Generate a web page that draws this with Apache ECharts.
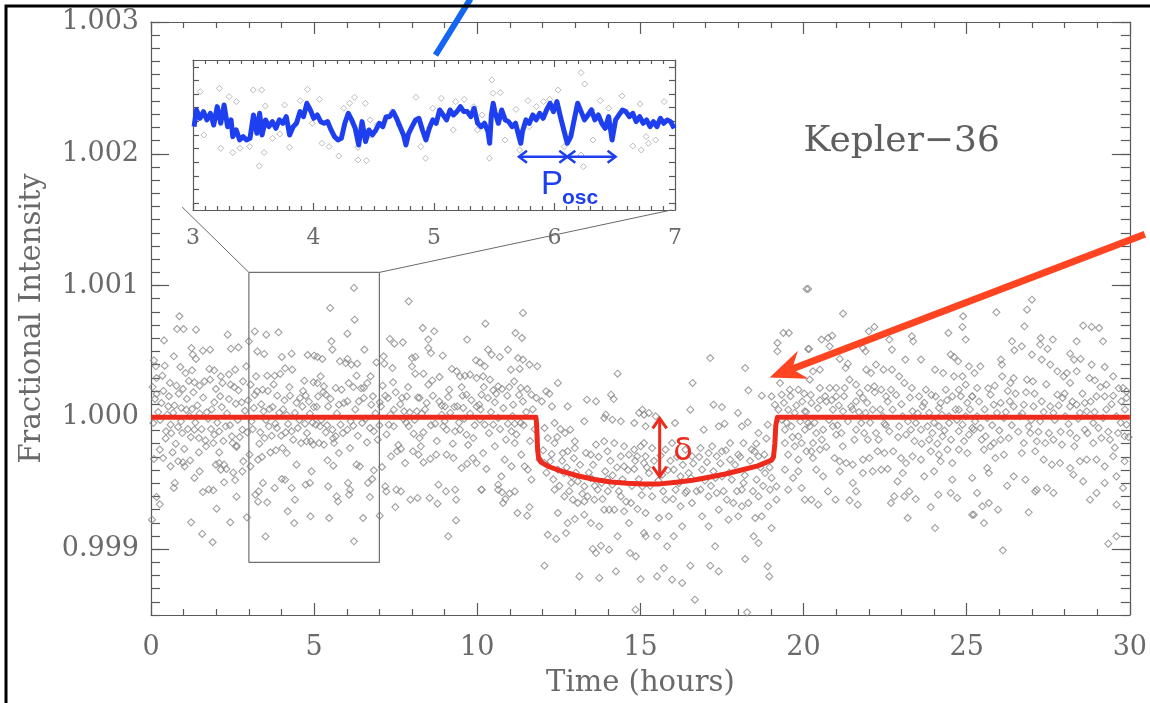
<!DOCTYPE html>
<html><head><meta charset="utf-8">
<script src="https://cdn.jsdelivr.net/npm/echarts@6/dist/echarts.min.js"></script>
<style>html,body{margin:0;padding:0;background:#fff}#c{width:1150px;height:703px}</style>
</head><body><div id="c"></div>
<script>
// ---- Observed light curve: [time (hours), deviation from 1 in ppm] ----
const obsSeg1 = [[0.87,767],[0.80,670],[1.00,670],[1.38,665],[0.40,584],[2.35,627],[3.18,652],[3.53,627],[3.91,645],[3.00,577],[1.24,526],[1.59,506],[1.81,513],[2.45,521],[2.68,531],[0.70,463],[1.28,476],[1.38,443],[3.26,500],[3.47,481],[4.01,458],[4.31,483],[4.80,473],[5.00,468],
[0.09,433],[0.15,387],[0.42,392],[0.90,382],[1.06,336],[1.26,357],[1.79,367],[1.94,357],[2.14,311],[2.39,326],[2.58,362],[2.92,387],[3.22,311],[3.56,316],[3.79,316],[3.96,329],[4.11,372],[4.33,362],[4.70,278],[4.98,266],
[0.17,298],[0.35,316],[0.58,261],[0.78,240],[0.98,215],[1.16,276],[1.33,266],[1.49,240],[1.64,273],[1.81,286],[1.99,215],[2.19,261],[2.44,248],[2.68,205],[2.82,273],[3.05,248],[3.25,197],[3.42,210],[3.87,164],[4.09,129],[4.26,164],[4.57,147],[4.74,164],[4.99,78],
[0.17,177],[0.32,109],[0.53,83],[0.68,33],[0.93,71],[1.08,58],[1.26,63],[1.49,28],[1.71,38],[1.94,114],[2.17,78],[2.39,139],[2.60,104],[2.78,114],[2.98,129],[3.15,71],[3.45,46],[3.63,63],[3.73,78],[3.93,33],[4.16,18],[4.41,33],[4.64,83],[4.87,28],
[0.07,-43],[0.46,-106],[0.60,-56],[0.83,-73],[0.96,-119],[1.13,-89],[1.33,-94],[1.47,-157],[1.67,-175],[1.84,-89],[1.94,-132],[2.09,-106],[2.29,-68],[2.48,-144],[2.62,-215],[2.80,-94],[2.95,-114],[3.12,-89],[3.35,-114],[3.48,-157],[3.61,-68],[3.81,-48],[3.99,-139],[4.13,-114],[4.31,-106],[4.50,-81],[4.72,-48],[4.90,-182],
[0.27,-245],[0.37,-309],[0.66,-266],[0.83,-334],[0.98,-342],[1.20,-327],[1.47,-266],[1.69,-220],[1.91,-195],[2.09,-266],[2.24,-359],[2.50,-195],[2.62,-225],[2.83,-334],[3.02,-283],[3.28,-321],[3.40,-301],[3.66,-266],[3.83,-250],[4.03,-233],[4.16,-271],[4.46,-359],[4.60,-195],[4.77,-182],[4.97,-207],[0.09,-316],[0.60,-372],[1.03,-372],[1.99,-359],[2.31,-392],[3.05,-372],
[0.70,-536],[0.73,-498],[1.33,-460],[1.59,-567],[1.77,-547],[1.91,-554],[2.09,-347],[2.14,-397],[2.24,-493],[2.52,-420],[2.58,-476],[2.62,-602],[2.80,-410],[3.20,-587],[3.30,-562],[3.43,-498],[3.56,-645],[3.28,-640],[3.79,-536],[4.01,-468],[4.11,-473],[4.31,-536],[4.41,-625],[4.74,-511],[4.87,-498],[4.92,-410],[0.17,-604],[0.27,-660],[1.49,-410],
[1.23,-797],[1.57,-885],[1.89,-948],[2.01,-693],[2.43,-797],[2.94,-759],[3.51,-904],[4.19,-713],[4.39,-802],[4.89,-751],[0.03,-777],
[0.05,230],[0.12,140],[0.22,40],[0.28,-20],[0.38,200],[0.45,-160],[0.50,20],[0.55,160],[0.62,-120],[0.72,90],[0.76,-200],[0.85,180],[0.92,-30],[1.02,-240],[1.10,140],[1.18,10],[1.22,-150],[1.30,190],[1.36,-40],[1.42,90],[1.55,-90],[1.60,150],[1.75,-10],[1.86,60],[2.03,-40],[2.12,160],[2.22,-180],[2.33,30],[2.42,-60],[2.55,230],[2.66,-20],[2.72,-150],[2.88,50],[3.08,-30],[3.18,170],[3.32,-200],[3.38,100],[3.52,-20],[3.58,200],[3.70,-140],[3.76,250],[3.86,-80],[4.05,60],[4.20,-50],[4.24,230],[4.36,-170],[4.46,110],[4.55,-20],[4.66,200],[4.78,-120],[4.84,120],[4.95,-40]];
const obsSeg2 = [[6.22,982],[7.90,880],[5.49,830],[6.24,741],[6.02,635],[5.53,577],[5.56,514],[6.54,514],[7.32,595],[7.46,559],[7.72,569],[8.33,678],[8.68,653],[8.50,590],[8.50,526],[8.58,488],[9.69,590],[8.94,468],[9.96,433],
[5.10,458],[5.25,443],[5.79,425],[5.97,412],[6.02,443],[6.14,400],[6.32,407],[6.91,417],[7.13,463],[7.15,407],[7.40,374],[8.00,450],[8.10,458],[8.00,387],[8.10,331],[8.35,331],[8.84,306],[9.22,367],[9.37,349],[9.47,311],[9.62,316],[9.78,324],[9.98,298],[10.08,417],
[5.20,311],[5.10,260],[5.30,235],[5.66,223],[6.20,230],[6.30,316],[6.52,223],[6.63,260],[6.73,311],[7.42,266],[7.69,147],[7.84,159],[8.23,147],[8.50,248],[8.64,164],[8.91,89],[9.11,154],[9.55,164],[9.67,172],[10.06,96],
[5.12,159],[5.36,172],[5.43,83],[5.76,96],[5.91,109],[6.02,121],[6.37,121],[6.52,147],[6.75,96],[7.01,114],[7.05,83],[7.18,164],[7.26,147],[7.44,58],[7.76,46],[7.93,38],[8.15,46],[8.30,28],[8.45,109],[8.91,20],[9.01,83],[9.17,33],[9.39,83],[9.57,71],[9.78,28],[9.98,83],
[5.05,-56],[5.18,-68],[5.36,-114],[5.56,-94],[5.66,-144],[5.81,-56],[6.02,-94],[6.20,-63],[6.47,-43],[6.71,-81],[6.83,-106],[6.95,-170],[7.29,-56],[7.44,-68],[7.74,-13],[7.90,-68],[8.05,-124],[8.23,-157],[8.35,-114],[8.71,-48],[8.96,-68],[9.06,-94],[9.32,-106],[9.47,-94],[9.67,-132],[9.88,-157],
[5.15,-195],[5.30,-207],[5.61,-195],[5.76,-271],[6.10,-233],[5.41,-326],[5.59,-367],[6.30,-359],[6.40,-372],[7.08,-377],[7.36,-296],[7.54,-258],[7.66,-240],[7.79,-347],[8.03,-258],[8.20,-283],[8.35,-342],[8.56,-316],[8.74,-283],[9.06,-283],[9.27,-309],[9.52,-385],[9.69,-352],[9.86,-309],[9.98,-347],
[5.43,-524],[6.04,-498],[6.10,-549],[6.07,-587],[5.69,-600],[5.73,-638],[6.65,-498],[6.78,-468],[6.83,-402],[6.71,-605],[7.18,-524],[7.21,-562],[7.52,-549],[7.66,-562],[7.49,-681],[7.95,-625],[8.17,-612],[8.54,-612],[8.78,-655],[8.81,-511],[9.04,-562],[9.32,-549],[9.35,-625],[10.13,-549],
[5.46,-764],[6.50,-764],[7.01,-746],[6.22,-941],[9.35,-782],[9.11,-903],
[5.08,80],[5.22,-20],[5.28,190],[5.40,-60],[5.50,140],[5.58,-160],[5.70,30],[5.84,210],[5.88,-120],[6.06,260],[6.12,-30],[6.26,60],[6.34,-140],[6.44,220],[6.58,-10],[6.62,-190],[6.80,160],[6.88,30],[7.00,-60],[7.10,240],[7.22,-130],[7.34,20],[7.50,190],[7.58,-210],[7.64,100],[7.82,-40],[7.88,230],[8.08,-20],[8.18,150],[8.27,-220],[8.40,60],[8.58,-60],[8.62,280],[8.76,-180],[8.84,120],[9.00,-30],[9.14,210],[9.25,-200],[9.30,80],[9.44,-40],[9.52,230],[9.60,-10],[9.72,-210],[9.82,130],[9.92,-60]];
const obsSeg3 = [[11.40,792],[10.25,711],[11.17,640],[11.37,602],[10.33,514],[10.44,476],[10.69,458],[10.94,514],[11.25,450],[11.40,438],[11.60,400],[11.84,387],[11.03,362],[11.30,367],[10.23,387],[10.18,311],[10.39,286],[12.47,261],[14.30,331],[13.36,134],[13.64,121],[14.10,172],[14.18,139],
[10.64,235],[10.76,215],[10.49,205],[11.13,273],[11.33,223],[11.53,215],[11.66,172],[11.81,147],[11.98,121],[10.13,172],[10.33,147],[10.54,114],[10.92,164],[11.10,96],[11.40,121],[12.11,197],[12.21,180],[12.29,83],[12.77,83],[13.28,-30],[13.94,20],[14.14,-18],[14.40,-30],[13.89,-5],[14.96,33],[15.11,20],[14.81,-43],
[10.08,-18],[10.23,-56],[10.49,-56],[10.64,-5],[10.94,-48],[11.15,-48],[11.33,-43],[11.05,-106],[11.15,-195],[10.54,-220],[10.18,-271],[10.28,-392],[10.84,-321],[11.05,-372],[10.74,-448],[11.35,-283],[11.66,-473],[11.55,-397],[11.45,-372],[10.13,-549],[10.64,-511],[10.64,-549],[10.76,-569],[10.86,-620],[10.99,-579],[11.15,-562],[10.79,-650],[11.23,-726],[11.53,-746],[11.60,-681],
[12.06,-81],[12.37,-43],[12.55,-89],[12.69,-119],[12.85,-94],[12.99,-182],[12.16,-157],[12.37,-195],[12.62,-271],[12.77,-258],[12.99,-233],[11.91,-321],[12.06,-347],[12.24,-334],[12.47,-397],[12.67,-423],[12.90,-448],[13.08,-486],[13.28,-524],[13.48,-460],[13.69,-549],[13.81,-498],[13.99,-468],[14.14,-511],[13.64,-207],[13.89,-182],[14.20,-195],[14.50,-220],[14.81,-245],[15.01,-220],[13.48,-283],[13.99,-258],[14.40,-296],[14.65,-283],[14.90,-296],[14.50,-372],[14.81,-392],[15.11,-347],
[12.37,-549],[12.67,-600],[12.93,-625],[13.08,-650],[13.28,-638],[12.47,-726],[12.77,-802],[12.99,-772],[12.16,-891],[12.42,-923],[12.72,-878],[12.06,-1126],[13.13,-1207],[13.54,-999],[13.64,-1030],[13.79,-974],[14.04,-1004],[14.30,-903],[13.74,-1219],[14.25,-1169],[14.68,-1030],[14.86,-1055],[14.91,-696],[15.11,-878],[15.01,-1227],[14.20,-701],[14.50,-713],[14.71,-650],[13.48,-802],[13.74,-827],[13.28,-739],[14.65,-802],[13.89,-701],[14.04,-701],[12.88,-498],[13.38,-600],[13.59,-625],[14.40,-600],[14.85,-1460],
[10.10,60],[10.20,230],[10.36,-120],[10.42,40],[10.58,180],[10.70,-90],[10.80,70],[10.88,-170],[10.98,230],[11.08,10],[11.20,-130],[11.28,170],[11.42,-60],[11.50,40],[11.62,-180],[11.70,60],[11.76,-90],
[12.02,-250],[12.12,-420],[12.28,-280],[12.33,-470],[12.45,-150],[12.52,-520],[12.60,-330],[12.74,-380],[12.82,-560],[12.96,-310],[13.02,-420],[13.15,-360],[13.22,-580],[13.33,-270],[13.42,-420],[13.55,-360],[13.60,-520],[13.72,-300],[13.84,-620],[13.92,-410],[14.00,-560],[14.08,-330],[14.15,-440],[14.28,-380],[14.34,-560],[14.45,-470],[14.56,-640],[14.62,-400],[14.74,-520],[14.84,-330],[14.95,-470],[15.04,-590]];
const obsSeg4 = [[20.09,974],[19.38,640],[19.55,640],[19.20,564],[19.20,501],[20.14,519],[17.14,450],[18.21,374],[16.60,261],[18.31,205],[18.72,164],[19.02,159],[19.33,172],[19.58,210],[19.84,210],[20.02,180],[19.12,96],[19.23,58],[19.53,58],[19.73,33],[20.04,46],
[15.06,58],[15.26,33],[15.47,8],[15.16,-68],[16.06,-43],[16.53,58],[17.24,96],[17.50,78],[16.94,-94],[17.40,-68],[17.58,-48],[17.99,33],[18.11,-68],[18.29,-38],[18.62,-119],[18.90,-56],[17.75,-195],[18.16,-195],[18.50,-258],
[15.11,-195],[15.36,-233],[15.16,-296],[15.77,-245],[15.97,-195],[16.38,-245],[16.58,-296],[16.84,-233],[17.09,-271],[17.34,-296],[17.50,-258],[17.75,-321],[18.00,-283],[18.41,-245],[18.62,-296],[18.80,-283],
[15.26,-423],[15.67,-435],[16.02,-397],[16.23,-448],[16.48,-423],[16.89,-397],[17.24,-410],[17.50,-448],[17.80,-473],[18.16,-498],[18.56,-473],[18.82,-423],[19.02,-460],
[15.06,-524],[15.36,-600],[15.77,-625],[16.08,-549],[16.38,-574],[16.58,-650],[16.84,-549],[17.09,-600],[17.34,-574],[17.65,-625],[17.85,-650],[18.11,-549],[18.31,-650],[18.62,-600],[18.97,-549],[19.17,-524],
[15.16,-726],[15.57,-764],[15.87,-751],[16.23,-675],[16.28,-827],[16.89,-751],[17.09,-827],[17.40,-701],[17.70,-777],[18.00,-751],[18.11,-675],[18.52,-764],[18.72,-751],[18.92,-675],[19.02,-840],
[15.16,-903],[15.51,-903],[15.82,-979],[16.02,-903],[16.53,-1126],[17.14,-1126],[17.40,-1169],[17.29,-979],[18.21,-1075],[18.47,-903],[18.62,-954],[18.90,-1131],[18.95,-1207],[15.72,-1144],[15.97,-1232],[16.28,-1257],[15.51,-1207],[16.67,-1384],[18.27,-1480],
[19.33,-18],[19.43,-94],[19.63,-68],[19.84,-144],[20.04,-94],[20.14,-43],[19.43,-195],[19.73,-220],[19.94,-195],[19.53,-283],[19.84,-321],[20.09,-258],[19.43,-397],[19.68,-460],[19.84,-410],[19.53,-549],[19.94,-536],[19.17,-625],[20.04,-625],
[15.20,-380],[15.30,-520],[15.42,-330],[15.55,-480],[15.62,-290],[15.70,-560],[15.84,-400],[15.92,-330],[16.00,-620],[16.12,-300],[16.18,-500],[16.30,-360],[16.42,-560],[16.55,-460],[16.62,-350],[16.72,-560],[16.80,-300],[16.98,-480],[17.04,-340],[17.16,-520],[17.20,-220],[17.30,-460],[17.45,-350],[17.55,-560],[17.62,-250],[17.72,-420],[17.90,-360],[17.96,-560],[18.06,-300],[18.20,-440],[18.36,-330],[18.45,-560],[18.55,-200],[18.68,-380],[18.76,-520],[18.86,-160],[18.96,-380],
[19.28,260],[19.40,110],[19.48,-40],[19.60,160],[19.66,-150],[19.78,90],[19.90,-30],[19.96,120]];
const obsSeg5 = [[20.14,974],[21.21,787],[22.00,653],[22.17,686],[20.55,590],[20.75,602],[20.88,620],[20.17,519],[20.80,539],[21.82,526],[21.90,501],[22.63,590],[22.71,514],[23.32,615],[23.36,577],[24.89,767],[24.87,686],[24.97,590],[24.44,640],[23.60,438],[23.12,438],[24.51,476],[24.61,458],[24.74,425],[25.07,387],[21.11,443],[21.36,407],[21.29,374],[21.92,362],[22.07,336],[22.22,400],[22.45,362],[22.71,362],[22.93,311],[24.03,362],[24.28,336],[24.61,311],[24.87,311],[20.29,349],[20.50,362],[20.19,286],
[20.50,223],[20.80,223],[21.00,223],[21.26,223],[21.41,286],[21.61,248],[21.72,185],[21.82,147],[21.97,223],[22.17,235],[22.38,210],[22.53,159],[22.68,210],[23.09,261],[23.32,223],[23.54,159],[23.75,210],[24.05,159],[24.20,109],[24.36,210],[24.56,159],[24.76,210],[24.97,248],[25.17,159],[20.24,109],[20.50,129],[20.70,121],[21.00,159],
[20.90,58],[21.21,46],[21.46,83],[21.61,121],[21.90,33],[22.12,58],[22.43,8],[22.73,58],[23.04,8],[23.34,46],[23.65,83],[23.85,33],[24.15,71],[24.46,8],[24.76,58],[24.97,8],
[20.19,-68],[20.39,-119],[20.29,-195],[20.60,-94],[20.90,-68],[21.00,-132],[21.16,-119],[21.61,-94],[21.77,-43],[21.97,-170],[22.22,-119],[22.48,-48],[22.63,-106],[22.93,-68],[23.14,-132],[23.29,-94],[23.44,-43],[23.60,-94],[23.80,-68],[23.85,-170],[23.95,-119],[24.15,-68],[24.26,-144],[24.46,-43],[24.76,-106],[24.87,-56],[25.07,-132],[25.17,-81],
[20.24,-258],[20.50,-245],[20.29,-309],[20.70,-225],[20.95,-309],[21.11,-334],[21.31,-347],[21.51,-359],[21.82,-321],[22.02,-309],[22.27,-258],[22.48,-271],[22.75,-258],[22.99,-309],[23.14,-347],[23.34,-296],[23.60,-321],[23.90,-258],[24.15,-283],[24.20,-334],[24.41,-245],[24.76,-245],[25.02,-271],[24.56,-347],
[20.39,-397],[20.60,-448],[21.11,-410],[21.51,-498],[21.82,-423],[22.12,-410],[22.38,-397],[22.58,-392],[22.88,-486],[23.04,-423],[23.70,-448],[24.00,-410],[24.56,-473],[25.17,-460],
[20.75,-562],[20.98,-625],[21.41,-630],[21.61,-562],[21.66,-663],[22.68,-650],[22.78,-600],[23.09,-600],[23.24,-562],[23.44,-620],[24.13,-587],[24.51,-574],[24.71,-612],[20.24,-625],[20.45,-663],
[23.19,-764],[23.90,-681],[24.03,-840],[25.17,-739],
[20.08,40],[20.22,170],[20.34,-40],[20.44,70],[20.56,-170],[20.66,160],[20.78,-20],[20.86,130],[21.04,-60],[21.08,90],[21.20,-220],[21.24,160],[21.36,-30],[21.50,60],[21.56,-170],[21.70,40],[21.86,-120],[21.95,110],[22.04,-40],[22.18,190],[22.30,-170],[22.35,60],[22.52,-60],[22.58,120],[22.84,170],[22.90,-150],[23.00,100],[23.20,-30],[23.26,150],[23.40,-180],[23.50,30],[23.62,-200],[23.70,110],[23.92,170],[24.00,-40],[24.10,-200],[24.24,20],[24.32,-100],[24.40,130],[24.52,-170],[24.66,60],[24.70,-20],[24.82,160],[24.92,-180],[25.02,110]];
const obsSeg6 = [[27.00,893],[26.85,817],[26.77,691],[25.91,797],[28.57,696],[28.83,686],[29.06,678],[26.39,577],[26.46,509],[26.69,539],[27.27,602],[27.25,552],[27.48,519],[27.64,590],[28.37,577],[29.18,577],[26.05,438],[26.08,400],[27.00,476],[27.30,438],[27.56,400],[28.17,483],[28.29,438],[28.49,443],[28.83,400],[29.23,382],[25.42,387],[25.24,336],
[27.78,349],[27.97,311],[28.17,261],[28.37,349],[28.07,336],[28.76,298],[28.93,281],[29.28,248],[29.49,311],[29.79,223],[29.90,197],[26.09,311],[26.34,261],[26.44,298],[26.85,286],[27.03,273],[25.32,223],[25.17,159],[25.73,172],[25.83,96],[26.04,109],[26.32,121],[26.44,83],[26.75,96],[27.05,83],[27.30,121],[27.56,83],[27.78,172],[27.94,147],[28.17,83],[28.37,96],[28.62,109],[28.98,159],[29.23,159],[29.49,164],[29.74,121],[29.90,147],
[25.32,8],[25.63,-5],[25.93,33],[26.14,-5],[26.64,8],[26.90,-68],[27.25,-30],[27.66,33],[28.02,8],[28.47,33],[28.68,46],[28.88,-43],[29.18,-5],[29.59,8],[29.90,-56],
[25.22,-94],[25.42,-81],[25.58,-144],[25.83,-195],[26.04,-170],[26.29,-157],[26.75,-195],[26.95,-119],[27.15,-182],[27.41,-195],[27.66,-170],[27.92,-207],[28.17,-119],[28.37,-157],[28.62,-94],[28.88,-195],[29.13,-157],[29.39,-170],[29.64,-119],[29.84,-144],
[25.53,-245],[25.73,-220],[26.14,-283],[26.69,-271],[27.10,-258],[27.36,-321],[27.61,-359],[27.86,-347],[28.17,-385],[28.47,-334],[28.68,-321],[28.98,-321],[29.23,-372],[29.49,-296],[29.84,-334],[25.63,-385],[25.88,-309],
[25.68,-423],[26.24,-519],[26.44,-448],[26.80,-473],[27.10,-562],[27.15,-549],[27.46,-536],[27.66,-574],[28.27,-435],[28.57,-486],[28.78,-625],[28.98,-574],[29.23,-498],[29.59,-448],[29.79,-536],[25.32,-574],[25.48,-675],[25.68,-650],[25.96,-701],[25.22,-739],[26.90,-721],[29.59,-663],
[25.53,-802],[26.11,-1009],[29.34,-959],[29.59,-903],
[25.10,60],[25.26,-30],[25.38,120],[25.46,-170],[25.55,60],[25.66,220],[25.78,-60],[25.86,240],[26.00,-100],[26.20,40],[26.26,200],[26.38,-60],[26.50,180],[26.58,-110],[26.70,30],[26.82,190],[26.98,-20],[27.08,180],[27.20,-110],[27.36,40],[27.44,250],[27.52,-120],[27.70,-20],[27.82,90],[27.88,-110],[28.00,180],[28.12,-50],[28.24,120],[28.30,-220],[28.42,-10],[28.55,180],[28.70,-120],[28.80,120],[28.92,40],[29.04,-80],[29.10,230],[29.28,60],[29.34,-110],[29.44,100],[29.54,-230],[29.66,220],[29.72,-40],[29.85,60],[29.96,-150]];

// ---- Transit model (red) ----
const modelHours = [0,11.80,11.82,11.85,11.88,11.96,12.2,12.6,13.1,13.6,14.1,14.6,15.1,15.6,16.1,16.6,17.1,17.6,18.1,18.6,19.02,19.08,19.12,19.15,19.2,30];
const modelPpm   = [0,0,-60,-250,-310,-342,-375,-410,-445,-472,-490,-500,-505,-505,-492,-478,-455,-430,-400,-368,-325,-300,-200,-60,0,0];

// ---- Inset (hours 3-7) ----
const insetPoints = [[3.06,636],[3.22,685],[3.30,563],[3.36,489],[3.09,1],[3.23,-195],[3.33,-258],[3.39,-195],[3.47,-170],[3.50,660],[3.57,660],[3.55,-454],[3.60,426],[3.59,-258],[3.66,-49],[3.72,15],[3.80,-180],[3.76,440],[3.89,504],[3.95,670],[3.99,172],[4.05,523],[4.07,-122],[4.13,-170],[4.21,-308],[4.25,392],[4.30,465],[4.34,553],[4.43,465],[4.37,-366],[4.44,-376],[4.37,-180],[4.47,1],[4.53,147],[4.65,343],[4.71,147],[4.85,553],[4.89,-170],[4.93,-341],[4.99,392],[5.06,539],[5.18,489],[5.25,523],[5.33,416],[5.40,294],[5.48,807],[5.49,611],[5.55,622],[5.46,-341],[5.59,-73],[5.68,376],[5.71,-220],[5.78,504],[5.85,416],[5.91,489],[5.96,523],[6.03,660],[6.08,-170],[6.22,914],[6.25,748],[6.24,-464],[6.32,-73],[6.38,504],[6.45,392],[6.56,573],[6.65,-161],[6.71,456],[6.72,-220],[6.78,-122],[6.84,-73],[6.91,489],[6.22,-293],[6.19,367],[6.31,367],[6.76,-24],[5.79,122],[5.36,74],[5.16,74],[4.47,221]];
const smoothHours = [3.009,3.029,3.058,3.087,3.115,3.144,3.172,3.201,3.230,3.258,3.287,3.316,3.330,3.359,3.387,3.416,3.444,3.473,3.502,3.530,3.553,3.573,3.602,3.630,3.659,3.688,3.716,3.745,3.774,3.802,3.831,3.859,3.888,3.917,3.945,3.974,4.002,4.031,4.060,4.088,4.117,4.146,4.174,4.203,4.231,4.260,4.289,4.317,4.346,4.375,4.403,4.432,4.460,4.489,4.518,4.546,4.575,4.603,4.632,4.661,4.689,4.718,4.747,4.767,4.790,4.818,4.847,4.875,4.904,4.933,4.961,4.990,5.018,5.047,5.076,5.104,5.133,5.162,5.190,5.219,5.247,5.276,5.305,5.333,5.362,5.391,5.419,5.448,5.462,5.476,5.491,5.505,5.534,5.562,5.591,5.619,5.648,5.677,5.705,5.720,5.734,5.763,5.791,5.820,5.848,5.877,5.906,5.934,5.963,5.991,6.020,6.049,6.077,6.106,6.135,6.163,6.192,6.221,6.249,6.278,6.306,6.335,6.364,6.392,6.421,6.449,6.478,6.507,6.535,6.564,6.592,6.621,6.650,6.678,6.707,6.736,6.764,6.793,6.821,6.850,6.879,6.907,6.936,6.964,6.993];
const smoothPpm = [122,367,245,343,221,318,147,416,172,440,122,221,-24,74,-73,-24,-73,-49,294,25,318,1,221,122,196,98,221,172,269,1,122,172,343,269,465,367,245,294,196,172,196,74,-24,-73,-49,172,318,221,98,-146,196,-97,74,1,74,172,122,269,269,343,245,122,1,-146,25,122,221,245,74,-73,98,221,172,367,294,221,367,294,343,416,343,343,269,392,172,122,172,50,-122,294,465,343,172,367,221,196,122,172,-24,-122,50,221,172,294,221,318,245,367,465,343,489,269,74,-122,-24,221,465,343,221,294,367,221,294,172,98,269,-73,221,294,367,343,269,318,196,269,172,221,122,196,122,245,172,221,196,98];

// ---- Axis ticks / annotation anchors (data units) ----
const yMajorPpm = [-1000,0,1000,2000,3000];
const insetYTicks = [-1000,-800,-600,-400,-200,0,200,400,600,800,1000];
const zoomBoxHours = [3,7,7,3,3];
const zoomBoxPpm = [1100,1100,-1100,-1100,1100];
const connectors = [{main:[3,1100], inset:[2.91,-1056]},{main:[7,1100], inset:[6.97,-1100]}];
const keplerLabel = {text:'Kepler\u221236', at:[20.0,2095]};
const transitArrow = {from:[30.46,1389], to:[18.96,302]};
const topStroke = {from:[8.72,2749], to:[9.79,3175]};
const depthArrow = {hour:15.59, from:-8, to:-450};
const deltaLabel = {text:'\u03b4', at:[16.31,-262]};
const poscArrow = {ppm:-318, hours:[5.705,6.106,6.507]};
const poscP = {text:'P', at:[5.888,-734]};
const poscSub = {text:'osc', at:[6.062,-924]};

const FONT = 'DejaVu Serif';
const AX = '#5a5a5a';
const LBL = '#6a6a6a';
const lineSt = {color:AX, width:1.2};

function xMain(pos, labels){
  return {type:'value', gridIndex:0, position:pos, min:0, max:30, interval:5,
    axisLine:{show:true,onZero:false,lineStyle:lineSt},
    axisTick:{show:true,inside:true,length:12,lineStyle:lineSt},
    minorTick:{show:true,splitNumber:5,length:6,lineStyle:lineSt},
    axisLabel:{show:labels,fontFamily:FONT,fontSize:27,color:LBL,margin:19},
    splitLine:{show:false}, minorSplitLine:{show:false},
    name: labels ? 'Time (hours)' : '', nameLocation:'middle', nameGap:54,
    nameTextStyle:{fontFamily:FONT,fontSize:29,color:LBL}};
}
function yMinor(pos){
  return {type:'value', gridIndex:0, position:pos, min:-1500, max:3000, interval:100,
    axisLine:{show:true,onZero:false,lineStyle:lineSt},
    axisTick:{show:true,inside:true,length:9,lineStyle:lineSt},
    axisLabel:{show:false}, splitLine:{show:false}};
}
function yMajor(pos, labels){
  return {type:'value', gridIndex:0, position:pos, min:-1500, max:3000,
    axisLine:{show:false,onZero:false},
    axisTick:{show:true,inside:true,length:18,lineStyle:lineSt,customValues:yMajorPpm},
    axisLabel:{show:labels,customValues:yMajorPpm,fontFamily:FONT,fontSize:27,color:LBL,margin:12,
      formatter:v=>(1+v/1e6).toFixed(3)},
    splitLine:{show:false},
    name: labels ? 'Fractional Intensity' : '', nameLocation:'middle', nameGap:104, nameRotate:90,
    nameTextStyle:{fontFamily:FONT,fontSize:29,color:LBL}};
}
function xInset(pos, labels){
  return {type:'value', gridIndex:1, position:pos, min:3, max:7, interval:1,
    axisLine:{show:true,onZero:false,lineStyle:lineSt},
    axisTick:{show:true,inside:true,length:7,lineStyle:lineSt},
    minorTick:{show:true,splitNumber:10,length:4,lineStyle:lineSt},
    axisLabel:{show:labels,fontFamily:FONT,fontSize:22,color:LBL,margin:17},
    splitLine:{show:false}, minorSplitLine:{show:false}};
}
function yInset(pos){
  return {type:'value', gridIndex:1, position:pos, min:-1100, max:1100,
    axisLine:{show:true,onZero:false,lineStyle:lineSt},
    axisTick:{show:true,inside:true,length:6,lineStyle:lineSt,customValues:insetYTicks},
    axisLabel:{show:false}, splitLine:{show:false}};
}

const obsPoints = [].concat(obsSeg1,obsSeg2,obsSeg3,obsSeg4,obsSeg5,obsSeg6);

const option = {
  backgroundColor:'#ffffff',
  animation:false,
  grid:[
    {left:151, right:15, top:22, bottom:88},
    {left:193, top:60, width:482, height:150, show:true, backgroundColor:'#ffffff', borderWidth:0}
  ],
  xAxis:[xMain('bottom',true), xMain('top',false), xInset('bottom',true), xInset('top',false)],
  yAxis:[yMinor('left'), yMajor('left',true), yMinor('right'), yMajor('right',false), yInset('left'), yInset('right')],
  series:[
    {type:'scatter', xAxisIndex:0, yAxisIndex:0, data:obsPoints, symbol:'diamond', symbolSize:7,
      itemStyle:{color:'rgba(255,255,255,0)', borderColor:'#878787', borderWidth:1.1}, silent:true, z:2},
    {type:'line', xAxisIndex:0, yAxisIndex:0, data:modelHours.map((h,i)=>[h,modelPpm[i]]),
      showSymbol:false, symbol:'none', lineStyle:{color:'#ee2a1c', width:5, join:'round'}, silent:true, z:4},
    {type:'line', xAxisIndex:0, yAxisIndex:0, data:zoomBoxHours.map((h,i)=>[h,zoomBoxPpm[i]]),
      showSymbol:false, symbol:'none', lineStyle:{color:'#707070', width:1.2}, silent:true, z:3},
    {type:'scatter', xAxisIndex:2, yAxisIndex:4, data:insetPoints, symbol:'diamond', symbolSize:6,
      itemStyle:{color:'rgba(255,255,255,0)', borderColor:'#aaaaaa', borderWidth:1}, silent:true, z:3},
    {type:'line', xAxisIndex:2, yAxisIndex:4, data:smoothHours.map((h,i)=>[h,smoothPpm[i]]),
      showSymbol:false, symbol:'none', lineStyle:{color:'#1d3ff0', width:5, join:'round'}, silent:true, z:4}
  ]
};

const chart = echarts.init(document.getElementById('c'), null, {renderer:'canvas'});
chart.setOption(option);

const M = p => chart.convertToPixel({seriesIndex:0}, p);
const I = p => chart.convertToPixel({seriesIndex:3}, p);

function unit(a,b){const dx=b[0]-a[0],dy=b[1]-a[1],L=Math.hypot(dx,dy);return [dx/L,dy/L];}
function chevron(tip, u, len, half, color, w){
  const n=[-u[1],u[0]];
  return {type:'polyline', shape:{points:[[tip[0]-u[0]*len+n[0]*half, tip[1]-u[1]*len+n[1]*half], tip, [tip[0]-u[0]*len-n[0]*half, tip[1]-u[1]*len-n[1]*half]]},
    style:{stroke:color, lineWidth:w, fill:null, lineJoin:'miter'}, silent:true, z:50};
}
function textEl(t, p, size, color, family, weight, align){
  return {type:'text', x:p[0], y:p[1], silent:true, z:60,
    style:{text:t, fontSize:size, fontFamily:family, fontWeight:weight||'normal', fill:color,
      align:align||'center', verticalAlign:'middle', textAlign:align||'center', textVerticalAlign:'middle'}};
}

const g = [];
g.push({type:'rect', shape:{x:6,y:6,width:1400,height:1000}, style:{fill:'rgba(0,0,0,0)', stroke:'#000', lineWidth:3}, silent:true, z:100});
connectors.forEach(c=>{const a=M(c.main), b=I(c.inset);
  g.push({type:'line', shape:{x1:a[0],y1:a[1],x2:b[0],y2:b[1]}, style:{stroke:'#6a6a6a', lineWidth:1}, silent:true, z:10});});
{const a=M(topStroke.from), b=M(topStroke.to);
 g.push({type:'line', shape:{x1:a[0],y1:a[1],x2:b[0],y2:b[1]}, style:{stroke:'#1466f2', lineWidth:6}, silent:true, z:50});}
{const tail=M(transitArrow.from), tip=M(transitArrow.to); const u=unit(tail,tip); const n=[-u[1],u[0]];
 const len=36, half=15, notch=24;
 g.push({type:'line', shape:{x1:tail[0],y1:tail[1],x2:tip[0]-u[0]*notch,y2:tip[1]-u[1]*notch}, style:{stroke:'#ff4421', lineWidth:7}, silent:true, z:50});
 g.push({type:'polygon', shape:{points:[tip,[tip[0]-u[0]*len+n[0]*half, tip[1]-u[1]*len+n[1]*half],[tip[0]-u[0]*notch, tip[1]-u[1]*notch],[tip[0]-u[0]*len-n[0]*half, tip[1]-u[1]*len-n[1]*half]]}, style:{fill:'#ff4421'}, silent:true, z:50});}
{const a=M([depthArrow.hour,depthArrow.from]), b=M([depthArrow.hour,depthArrow.to]);
 g.push({type:'line', shape:{x1:a[0],y1:a[1],x2:b[0],y2:b[1]}, style:{stroke:'#ee2a1c', lineWidth:3}, silent:true, z:50});
 g.push(chevron(a, unit(b,a), 10, 7, '#ee2a1c', 3));
 g.push(chevron(b, unit(a,b), 10, 7, '#ee2a1c', 3));}
g.push(textEl(deltaLabel.text, M(deltaLabel.at), 32, '#ee2a1c', 'DejaVu Sans'));
g.push(textEl(keplerLabel.text, M(keplerLabel.at), 36, '#5e5e5e', FONT, 'normal', 'left'));
{const hs=poscArrow.hours; for(let k=0;k<2;k++){const a=I([hs[k],poscArrow.ppm]), b=I([hs[k+1],poscArrow.ppm]);
  g.push({type:'line', shape:{x1:a[0],y1:a[1],x2:b[0],y2:b[1]}, style:{stroke:'#1d3ff0', lineWidth:2.5}, silent:true, z:50});
  g.push(chevron(a, unit(b,a), 8, 6, '#1d3ff0', 2.5));
  g.push(chevron(b, unit(a,b), 8, 6, '#1d3ff0', 2.5));}}
g.push(textEl(poscP.text, I(poscP.at), 33, '#1d3ff0', 'Liberation Sans', 'normal', 'left'));
g.push(textEl(poscSub.text, I(poscSub.at), 21, '#1d3ff0', 'Liberation Sans', 'bold', 'left'));

chart.setOption({graphic:g});
</script></body></html>
